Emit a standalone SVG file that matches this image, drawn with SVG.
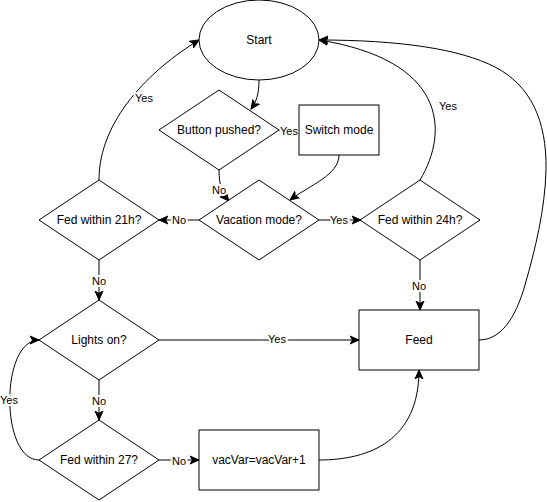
<svg xmlns="http://www.w3.org/2000/svg" width="547" height="502" viewBox="0 0 547 502">
<style>
.n{fill:#fff;stroke:#000;stroke-width:1}
.e{fill:none;stroke:#000;stroke-width:1}
.t{font-family:"Liberation Sans",Arial,sans-serif;font-size:12px;fill:#000;text-anchor:middle;dominant-baseline:central}
.l{font-family:"Liberation Sans",Arial,sans-serif;font-size:11px;fill:#000;text-anchor:middle;dominant-baseline:central;stroke:#fff;stroke-width:4;paint-order:stroke}
</style>
<defs>
<marker id="a" markerUnits="userSpaceOnUse" markerWidth="10" markerHeight="10" viewBox="0 0 10 10" refX="9" refY="5" orient="auto">
<path d="M0,1 L9,5 L0,9 L2.5,5 z" fill="#000" stroke="#000" stroke-width="1"/>
</marker>
</defs>
<rect width="547" height="502" fill="#fff"/>
<g id="connectors">
<path class="e" d="M259,80 C259,95 256,102 251,109" marker-end="url(#a)"/>
<path class="e" d="M279,130 L299,130"/>
<path class="e" d="M219,170 C219,185 222,193 229,201" marker-end="url(#a)"/>
<path class="e" d="M339,155 C339,175 310,185 290,200" marker-end="url(#a)"/>
<path class="e" d="M200,220 L159,220" marker-end="url(#a)"/>
<path class="e" d="M319,220 L361,220" marker-end="url(#a)"/>
<path class="e" d="M99,180 C99,120 150,70 199,40" marker-end="url(#a)"/>
<path class="e" d="M99,260 L99,300" marker-end="url(#a)"/>
<path class="e" d="M420,180 C450,130 445,60 319,40" marker-end="url(#a)"/>
<path class="e" d="M420,260 L420,310" marker-end="url(#a)"/>
<path class="e" d="M159,340 L359,340" marker-end="url(#a)"/>
<path class="e" d="M99,380 L99,420" marker-end="url(#a)"/>
<path class="e" d="M39,460 C0,460 0,340 39,340" marker-end="url(#a)"/>
<path class="e" d="M159,460 L199,460" marker-end="url(#a)"/>
<path class="e" d="M319,460 C370,460 419,440 419,370" marker-end="url(#a)"/>
<path class="e" d="M479,340 C500,340 515,320 525,285 C535,250 545,210 546,170 C547,120 530,85 495,67 C460,49 400,40 319,40" marker-end="url(#a)"/>
<text class="l" x="289" y="131">Yes</text>
<text class="l" x="219" y="190">No</text>
<text class="l" x="179" y="220">No</text>
<text class="l" x="339" y="220">Yes</text>
<text class="l" x="144" y="98">Yes</text>
<text class="l" x="99" y="281">No</text>
<text class="l" x="448" y="106">Yes</text>
<text class="l" x="419" y="286">No</text>
<text class="l" x="277" y="339">Yes</text>
<text class="l" x="99" y="401">No</text>
<text class="l" x="9" y="400">Yes</text>
<text class="l" x="179" y="461">No</text>
</g>
<g id="start"><ellipse class="n" cx="259" cy="40" rx="60" ry="40"/><text class="t" x="259" y="40">Start</text></g>
<g id="button"><polygon class="n" points="219,90 279,130 219,170 159,130"/><text class="t" x="219" y="130">Button pushed?</text></g>
<g id="switch"><rect class="n" x="299" y="105" width="80" height="50"/><text class="t" x="339" y="130">Switch mode</text></g>
<g id="vacation"><polygon class="n" points="259,180 319,220 259,260 199,220"/><text class="t" x="259" y="220">Vacation mode?</text></g>
<g id="fed21"><polygon class="n" points="99,180 159,220 99,260 39,220"/><text class="t" x="99" y="220">Fed within 21h?</text></g>
<g id="fed24"><polygon class="n" points="420,180 480,220 420,260 360,220"/><text class="t" x="420" y="220">Fed within 24h?</text></g>
<g id="lights"><polygon class="n" points="99,300 159,340 99,380 39,340"/><text class="t" x="99" y="340">Lights on?</text></g>
<g id="fed27"><polygon class="n" points="99,420 159,460 99,500 39,460"/><text class="t" x="99" y="460">Fed within 27?</text></g>
<g id="vacvar"><rect class="n" x="199" y="430" width="120" height="60"/><text class="t" x="259" y="460">vacVar=vacVar+1</text></g>
<g id="feed"><rect class="n" x="359" y="310" width="120" height="60"/><text class="t" x="419" y="340">Feed</text></g>
</svg>
